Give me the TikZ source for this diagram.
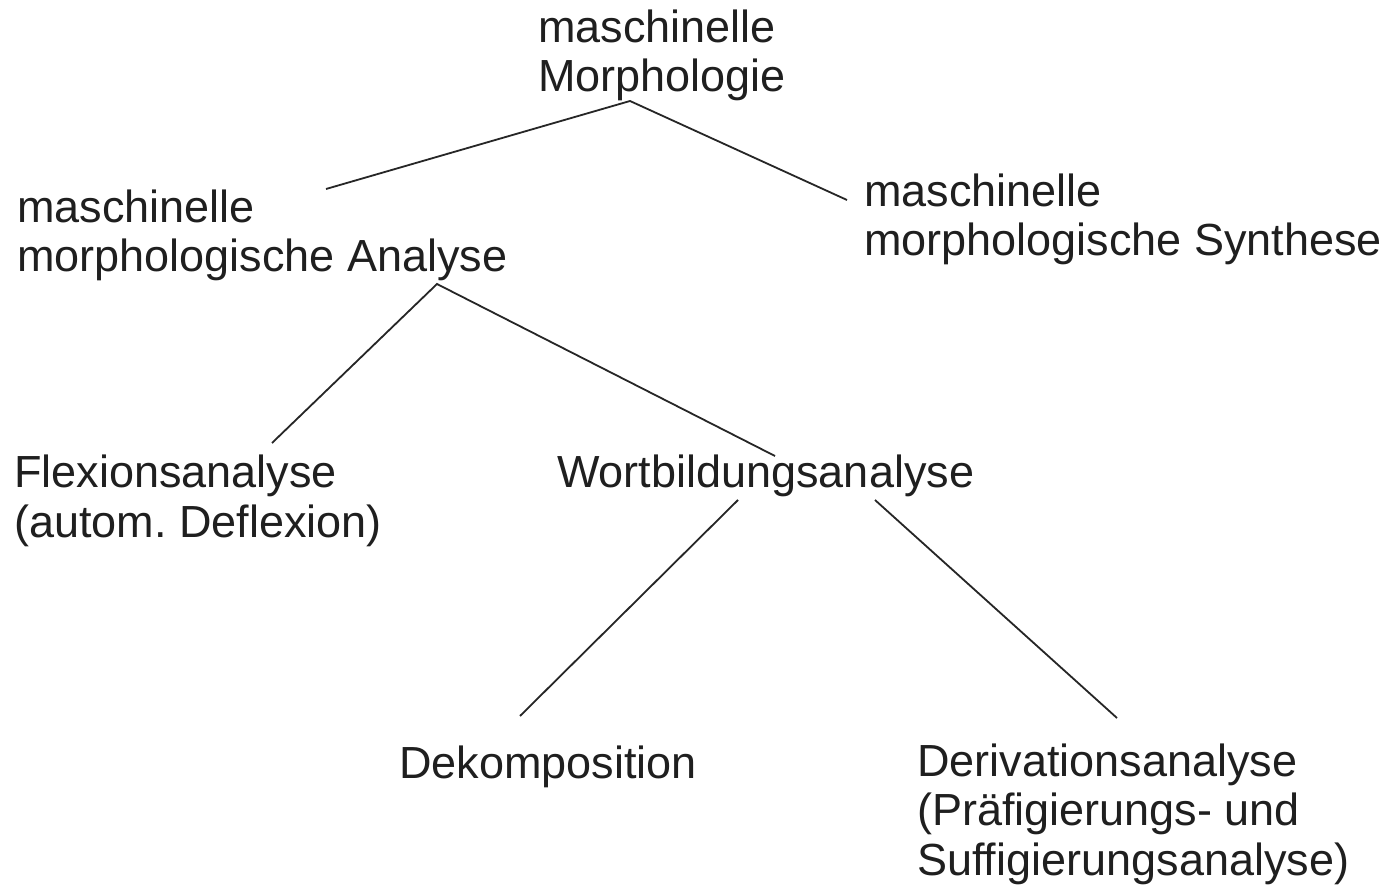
\documentclass[tikz,border=0pt]{standalone}
\usepackage{fontspec}
\setmainfont{Liberation Sans}
\frenchspacing
\begin{document}
\begin{tikzpicture}[x=1pt,y=-1pt,
  lbl/.style={anchor=base west,inner sep=0pt,align=left,text=black!88,
    font=\fontsize{45}{49.5}\selectfont},
  edge/.style={draw=black!85,line width=1.8pt}]
\useasboundingbox[fill=white] (0,0) rectangle (1392,890);
% base anchor = baseline of the last line
\node[lbl] (root) at (538,92) {maschinelle\\Morphologie};
\node[lbl] (ana) at (17,272) {maschinelle\\morphologische Analyse};
\node[lbl] (syn) at (864,256) {maschinelle\\morphologische Synthese};
\node[lbl] (flex) at (14,537) {Flexionsanalyse\\(autom. Deflexion)};
\node[lbl] (wort) at (557,487) {Wortbildungsanalyse};
\node[lbl] (dek) at (399,778) {Dekomposition};
\node[lbl] (der) at (917,875) {Derivationsanalyse\\(Präfigierungs- und\\Suffigierungsanalyse)};
\coordinate (rootB) at (630,101);
\coordinate (anaT) at (326,189);
\coordinate (synT) at (847,200);
\coordinate (anaB) at (437,284);
\coordinate (flexT) at (272,443);
\coordinate (wortT) at (775,456);
\coordinate (wortBL) at (738,500);
\coordinate (wortBR) at (875,500);
\coordinate (dekT) at (520,716);
\coordinate (derT) at (1117,718);
\draw[edge] (anaT) -- (rootB) -- (synT);
\draw[edge] (flexT) -- (anaB) -- (wortT);
\draw[edge] (wortBL) -- (dekT);
\draw[edge] (wortBR) -- (derT);
\end{tikzpicture}
\end{document}
